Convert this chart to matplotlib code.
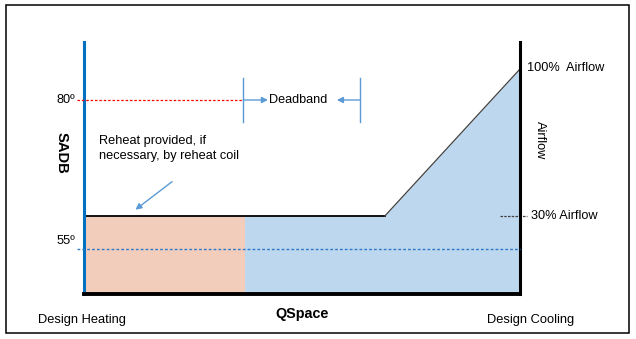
import matplotlib
matplotlib.use("Agg")
import matplotlib.pyplot as plt
from matplotlib.patches import Rectangle

plt.rcParams['font.family'] = ['Liberation Sans', 'DejaVu Sans']

# ---- data ----
qspace = [0, 37, 69, 100]            # % from design heating to design cooling
airflow = [30, 30, 30, 100]          # % airflow
heat_split = 37                      # reheat region end
deadband = [36.5, 63.3]
sadb_high = 80
sadb_low = 55
temp_ticks = ["80º", "55º"]
x_labels = ["Design Heating", "QSpace", "Design Cooling"]

W, H = 636, 339
fig = plt.figure(figsize=(W / 100, H / 100), dpi=100)

def fx(x):
    return x / W

def fy(y):
    return 1 - y / H

# outer border
fig.patches.append(Rectangle((fx(6), fy(333)), fx(629) - fx(6), fy(5) - fy(333),
                             transform=fig.transFigure, fill=False,
                             edgecolor='black', linewidth=1.1))

ax = fig.add_axes([fx(84), fy(294), fx(520) - fx(84), fy(42) - fy(294)])
ax.set_xlim(0, 100)
ax.set_ylim(47.45, 89.73)
ax2 = ax.twinx()
ax2.set_ylim(-7.14, 112.86)
ax.set_zorder(ax2.get_zorder() + 1)

for a in (ax, ax2):
    a.set_xticks([])
    a.set_yticks([])
    a.spines['top'].set_visible(False)
    a.patch.set_visible(False)
ax2.spines['left'].set_visible(False)
ax2.spines['bottom'].set_visible(False)
ax2.spines['right'].set_visible(False)
ax.spines['left'].set_color('#0070C0')
ax.spines['left'].set_linewidth(2.2)
ax.spines['bottom'].set_linewidth(2.8)
ax.spines['right'].set_linewidth(2.2)
ax.spines['right'].set_color('black')

# fills: blue under whole airflow curve, reheat region on top
ax2.fill_between(qspace, airflow, -7.14, color='#BDD7EE', linewidth=0, zorder=1)
ax2.fill_between([qspace[0], heat_split], [airflow[0], airflow[1]], -7.14,
                 color='#F3CDBB', linewidth=0, zorder=1.5)

# airflow curve
ax2.plot(qspace[:3], airflow[:3], color='black', linewidth=1.3, zorder=3)
ax2.plot(qspace[2:], airflow[2:], color='#404040', linewidth=0.9, zorder=3)

# temperature dashed lines
ax.plot([-1.6, deadband[0]], [sadb_high, sadb_high], color='red', linestyle=(0, (2, 1.5)),
        linewidth=0.9, clip_on=False, zorder=4)
ax.plot([-1.6, 100], [sadb_low, sadb_low], color='#2F7AC8', linestyle=(0, (2, 1.5)),
        linewidth=1.0, clip_on=False, zorder=4)

# deadband markers
db_col = '#5B9BD5'
for xv in deadband:
    ax.plot([xv, xv], [sadb_high - 3.7, sadb_high + 3.7], color=db_col, linewidth=1.0, zorder=4)
ax.annotate("", xy=(deadband[0] + 5.7, sadb_high), xytext=(deadband[0], sadb_high),
            arrowprops=dict(arrowstyle='-|>', color=db_col, lw=1.0, mutation_scale=9,
                            shrinkA=0, shrinkB=0))
ax.annotate("", xy=(deadband[1] - 5.3, sadb_high), xytext=(deadband[1], sadb_high),
            arrowprops=dict(arrowstyle='-|>', color=db_col, lw=1.0, mutation_scale=9,
                            shrinkA=0, shrinkB=0))
ax.text(deadband[0] + 5.9, sadb_high, "Deadband", ha='left', va='center', fontsize=9.1)

# 30% airflow marker
ax2.plot([95.5, 101.6], [30, 30], color='#404040', linestyle=(0, (2, 1)),
         linewidth=0.9, clip_on=False, zorder=4)
ax2.text(102.5, 30, "30% Airflow", ha='left', va='center', fontsize=9.2)
ax2.text(101.6, 100.4, "100%  Airflow", ha='left', va='center', fontsize=9.2)

# temperature labels
ax.text(-2.1, sadb_high, temp_ticks[0], ha='right', va='center', fontsize=9.2)
ax.text(-2.1, sadb_low + 1.3, temp_ticks[1], ha='right', va='center', fontsize=9.2)

# reheat annotation
ax.text(3.4, 60.4 + 11.4, "Reheat provided, if\nnecessary, by reheat coil",
        ha='left', va='center', fontsize=9.2, linespacing=1.35)
ax.annotate("", xy=(11.8, 61.6), xytext=(20.2, 66.3),
            arrowprops=dict(arrowstyle='-|>', color=db_col, lw=1.0, mutation_scale=9,
                            shrinkA=0, shrinkB=0))

# axis labels
fig.text(fx(62), fy(153), "SADB", rotation=270, ha='center', va='center',
         fontsize=10.6, fontweight='bold')
fig.text(fx(540), fy(140), "Airflow", rotation=270, ha='center', va='center', fontsize=9.2)
fig.text(fx(38), fy(320), x_labels[0], ha='left', va='center', fontsize=9.3)
fig.text(fx(302), fy(314), x_labels[1], ha='center', va='center', fontsize=10.4,
         fontweight='bold')
fig.text(fx(487), fy(320), x_labels[2], ha='left', va='center', fontsize=9.3)

fig.savefig("out.png", dpi=100)
